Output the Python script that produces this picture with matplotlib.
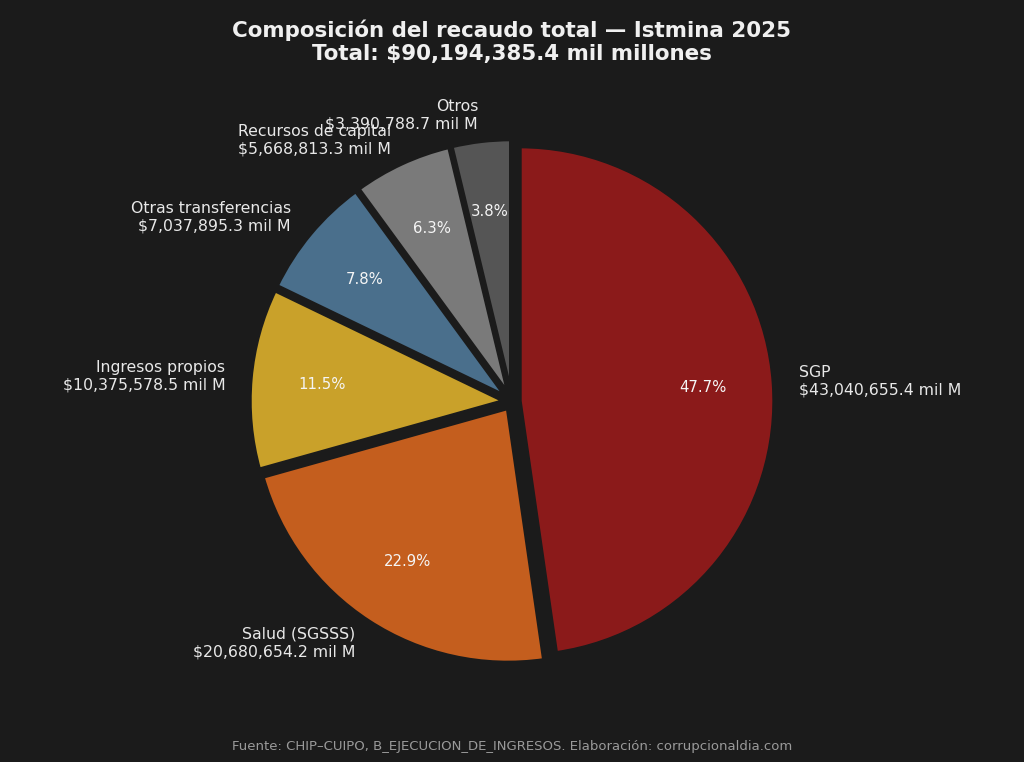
import matplotlib
matplotlib.use("Agg")
import matplotlib.pyplot as plt

plt.rcParams['font.family'] = ['DejaVu Sans']

# Composición del recaudo (mil millones)
categorias = ['SGP', 'Salud (SGSSS)', 'Ingresos propios', 'Otras transferencias',
              'Recursos de capital', 'Otros']
valores = [43040655.4, 20680654.2, 10375578.5, 7037895.3, 5668813.3, 3390788.7]
colores = ['#8B1A1A', '#C45E1E', '#C9A12A', '#4A6F8C', '#7A7A7A', '#555555']
total = sum(valores)

bg = '#1b1b1b'
fig = plt.figure(figsize=(10.24, 7.62), dpi=100, facecolor=bg)
ax = fig.add_axes([0.189, 0.055, 0.622, 0.836])
ax.set_facecolor(bg)

etiquetas = [f"{c}\n${v:,.1f} mil M" for c, v in zip(categorias, valores)]

wedges, texts, autotexts = ax.pie(
    valores, labels=etiquetas, colors=colores, startangle=90, counterclock=False,
    explode=[0.03] * len(valores), autopct='%1.1f%%', pctdistance=0.72,
    labeldistance=1.1,
    wedgeprops=dict(edgecolor=bg, linewidth=3),
    textprops=dict(color='#e8e8e8', fontsize=11.3))
for t in autotexts:
    t.set_color('#f5f5f5')
    t.set_fontsize(10.7)
ax.set_aspect('equal')

fig.text(0.5, 0.945, f"Composición del recaudo total — Istmina 2025\nTotal: ${total:,.1f} mil millones",
         ha='center', va='center', color='#f0f0f0', fontsize=15.4, fontweight='bold')
fig.text(0.5, 0.02, "Fuente: CHIP–CUIPO, B_EJECUCION_DE_INGRESOS. Elaboración: corrupcionaldia.com",
         ha='center', va='center', color='#9a9a9a', fontsize=9.5)

fig.savefig('out.png', dpi=100, facecolor=bg)
